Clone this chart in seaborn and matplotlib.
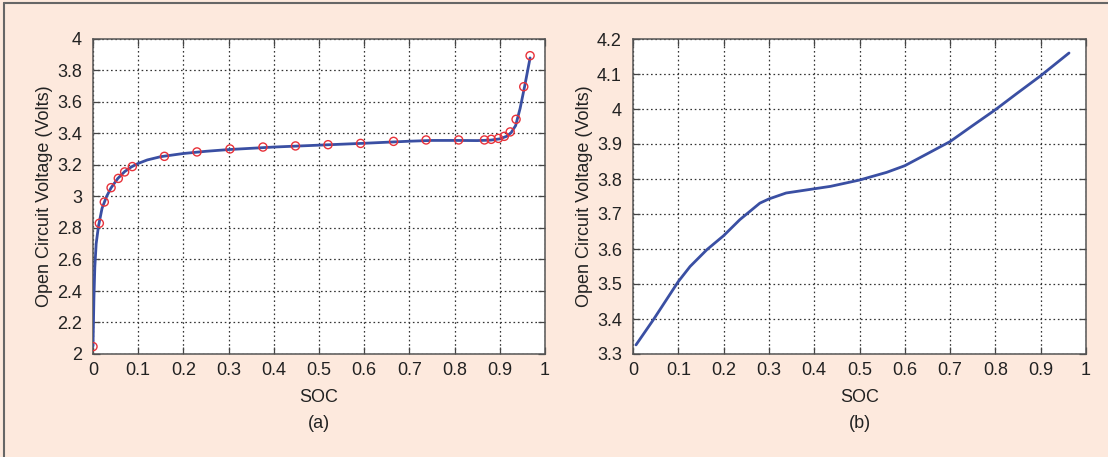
import matplotlib
matplotlib.use("Agg")
import matplotlib.pyplot as plt
import seaborn as sns
import pandas as pd
from matplotlib.lines import Line2D

# ---- Data ----
# Panel (a): measured OCV points (red circles)
soc_a_pts = [0.0, 0.014, 0.025, 0.040, 0.056, 0.070, 0.087, 0.158, 0.230, 0.303,
             0.376, 0.448, 0.520, 0.592, 0.665, 0.737, 0.809, 0.866, 0.881, 0.897,
             0.910, 0.923, 0.936, 0.953, 0.967]
ocv_a_pts = [2.047, 2.83, 2.965, 3.056, 3.115, 3.156, 3.19, 3.255, 3.283, 3.302,
             3.314, 3.321, 3.329, 3.337, 3.350, 3.359, 3.359, 3.359, 3.363, 3.369,
             3.382, 3.41, 3.49, 3.697, 3.894]
# Panel (a): fitted curve (blue line)
soc_a_fit = [0.0, 0.002, 0.004, 0.007, 0.012, 0.02, 0.03, 0.04, 0.055, 0.07, 0.085,
             0.1, 0.12, 0.15, 0.2, 0.25, 0.3, 0.4, 0.5, 0.6, 0.7, 0.75, 0.8, 0.85,
             0.88, 0.9, 0.915, 0.925, 0.935, 0.945, 0.955, 0.967]
ocv_a_fit = [2.05, 2.35, 2.55, 2.70, 2.81, 2.925, 3.0, 3.055, 3.115, 3.158, 3.188,
             3.21, 3.232, 3.253, 3.273, 3.287, 3.298, 3.314, 3.326, 3.338, 3.351,
             3.356, 3.356, 3.355, 3.358, 3.366, 3.382, 3.405, 3.45, 3.56, 3.70, 3.88]
# Panel (b): OCV curve
soc_b = [0.0066, 0.045, 0.1, 0.126, 0.163, 0.2, 0.236, 0.28, 0.3, 0.338, 0.4,
         0.436, 0.5, 0.56, 0.6, 0.648, 0.7, 0.748, 0.8, 0.847, 0.9, 0.9625]
ocv_b = [3.326, 3.398, 3.507, 3.55, 3.598, 3.638, 3.684, 3.731, 3.743, 3.76, 3.772,
         3.779, 3.797, 3.819, 3.838, 3.871, 3.907, 3.951, 3.998, 4.044, 4.095, 4.16]

xticks = [0, 0.1, 0.2, 0.3, 0.4, 0.5, 0.6, 0.7, 0.8, 0.9, 1]
xtick_labels = ["0", "0.1", "0.2", "0.3", "0.4", "0.5", "0.6", "0.7", "0.8", "0.9", "1"]
yticks_a = [2, 2.2, 2.4, 2.6, 2.8, 3, 3.2, 3.4, 3.6, 3.8, 4]
ytick_labels_a = ["2", "2.2", "2.4", "2.6", "2.8", "3", "3.2", "3.4", "3.6", "3.8", "4"]
yticks_b = [3.3, 3.4, 3.5, 3.6, 3.7, 3.8, 3.9, 4.0, 4.1, 4.2]
ytick_labels_b = ["3.3", "3.4", "3.5", "3.6", "3.7", "3.8", "3.9", "4", "4.1", "4.2"]

# ---- Style ----
sns.set_theme(style="white")
plt.rcParams["font.family"] = ["Liberation Sans", "DejaVu Sans"]
BG = "#fde9dd"
BLUE = "#3a4fa3"
RED = "#e8323a"
FS = 13

fig = plt.figure(figsize=(11.08, 4.57), dpi=100, facecolor=BG)
W, H = 1108, 457

def make_ax(left_px, right_px):
    return fig.add_axes([left_px / W, (H - 354) / H, (right_px - left_px) / W, (354 - 39) / H])

ax_a = make_ax(93, 545)
ax_b = make_ax(633, 1086)

df_a_fit = pd.DataFrame({"SOC": soc_a_fit, "OCV": ocv_a_fit})
df_a_pts = pd.DataFrame({"SOC": soc_a_pts, "OCV": ocv_a_pts})
df_b = pd.DataFrame({"SOC": soc_b, "OCV": ocv_b})

sns.lineplot(data=df_a_fit, x="SOC", y="OCV", ax=ax_a, color=BLUE, linewidth=2.0,
             sort=False, estimator=None, zorder=3)
sns.scatterplot(data=df_a_pts, x="SOC", y="OCV", ax=ax_a, marker="o", s=34,
                facecolors="none", edgecolor=RED, linewidth=1.0, zorder=4)
sns.lineplot(data=df_b, x="SOC", y="OCV", ax=ax_b, color=BLUE, linewidth=2.0,
             sort=False, estimator=None, zorder=3)

def style(ax, yticks, ylabels, ylim, sub):
    ax.set_facecolor("white")
    ax.set_xlim(0, 1)
    ax.set_ylim(*ylim)
    ax.set_xticks(xticks)
    ax.set_xticklabels(xtick_labels)
    ax.set_yticks(yticks)
    ax.set_yticklabels(ylabels)
    ax.grid(True, linestyle=(0, (1.3, 2.2)), color="#333333", linewidth=0.9)
    ax.tick_params(direction="in", length=5, width=0.9, color="#444444",
                   top=True, right=True, bottom=True, left=True,
                   labelsize=FS, labelcolor="#222222")
    ax.tick_params(axis="x", pad=6)
    ax.tick_params(axis="y", pad=8)
    for sp in ax.spines.values():
        sp.set_color("#555555")
        sp.set_linewidth(1.1)
        sp.set_visible(True)
    ax.set_xlabel("SOC", fontsize=FS, color="#222222", labelpad=7)
    ax.set_ylabel("Open Circuit Voltage (Volts)", fontsize=FS, color="#222222", labelpad=3)
    ax.text(0.5, (354 - 423) / 315, sub, transform=ax.transAxes, ha="center", va="center",
            fontsize=FS, color="#222222")

style(ax_a, yticks_a, ytick_labels_a, (2, 4), "(a)")
style(ax_b, yticks_b, ytick_labels_b, (3.3, 4.2), "(b)")

# outer frame (top and left edges)
fig.add_artist(Line2D([4 / W, 1], [1 - 3 / H, 1 - 3 / H], transform=fig.transFigure,
                      color="#666666", linewidth=1.5))
fig.add_artist(Line2D([4 / W, 4 / W], [0, 1 - 3 / H], transform=fig.transFigure,
                      color="#666666", linewidth=1.5))

fig.savefig("out.png", dpi=100, facecolor=BG)
